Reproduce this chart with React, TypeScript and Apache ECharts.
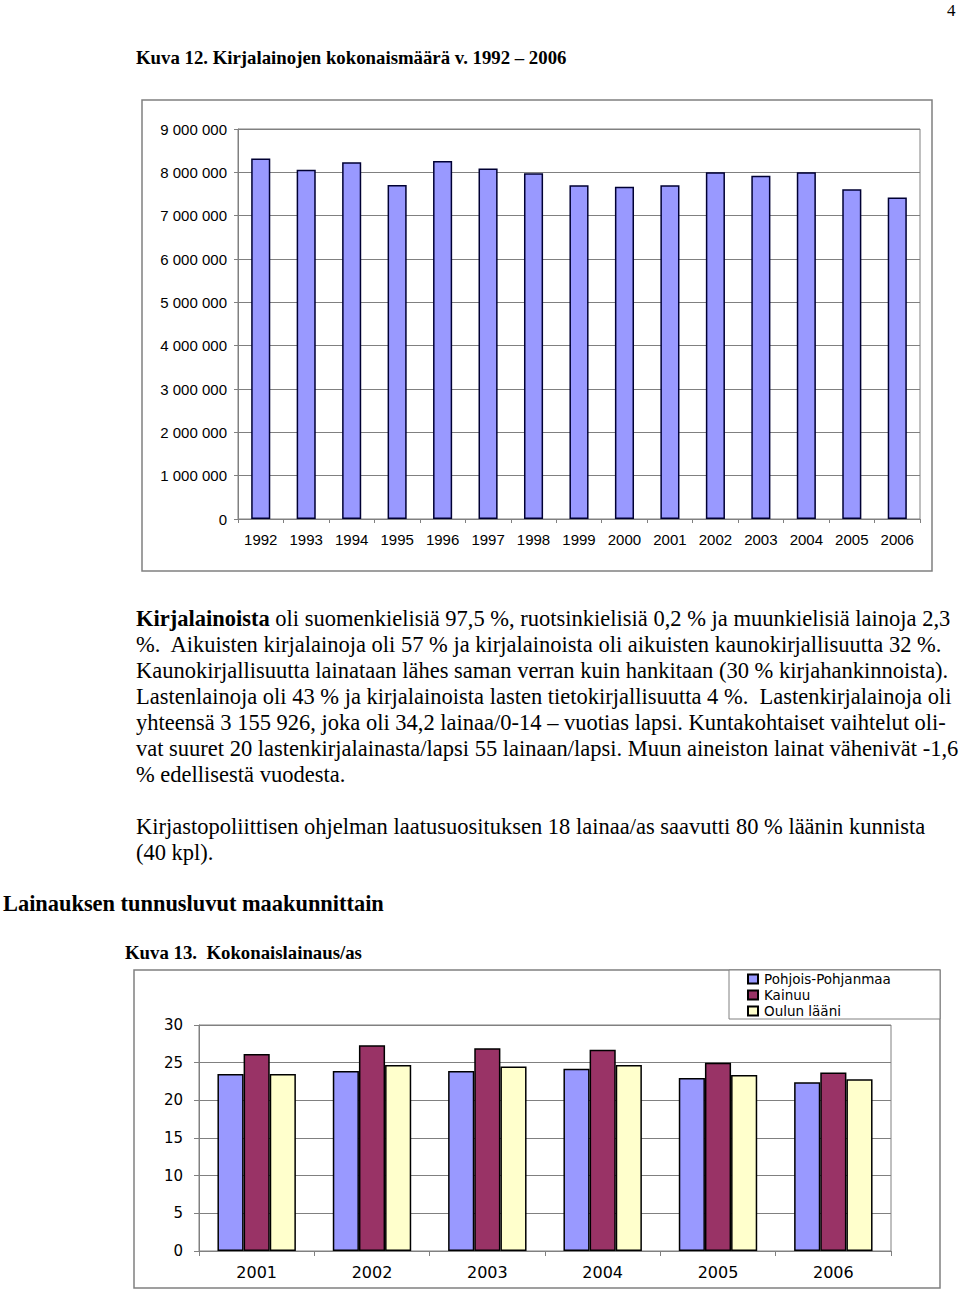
import React, { useEffect, useRef } from "react";
import * as echarts from "echarts";

const years1 = ["1992","1993","1994","1995","1996","1997","1998","1999","2000","2001","2002","2003","2004","2005","2006"];
const loans1 = [8320000, 8060000, 8230000, 7710000, 8260000, 8090000, 7980000, 7700000, 7670000, 7700000, 8000000, 7920000, 8000000, 7610000, 7420000];

const years2 = ["2001","2002","2003","2004","2005","2006"];
const seriesNames2 = ["Pohjois-Pohjanmaa", "Kainuu", "Oulun lääni"];
const pohjoisPohjanmaa = [23.5, 23.9, 23.9, 24.2, 22.95, 22.4];
const kainuu = [26.15, 27.3, 26.9, 26.7, 25.0, 23.7];
const oulunLaani = [23.5, 24.7, 24.5, 24.7, 23.35, 22.8];
const colors2 = ["#9999FF", "#993366", "#FFFFCC"];

const title1 = "Kuva 12. Kirjalainojen kokonaismäärä v. 1992 – 2006";
const paragraph1 = [
  "{b|Kirjalainoista} oli suomenkielisiä 97,5 %, ruotsinkielisiä 0,2 % ja muunkielisiä lainoja 2,3",
  "%.  Aikuisten kirjalainoja oli 57 % ja kirjalainoista oli aikuisten kaunokirjallisuutta 32 %.",
  "Kaunokirjallisuutta lainataan lähes saman verran kuin hankitaan (30 % kirjahankinnoista).",
  "Lastenlainoja oli 43 % ja kirjalainoista lasten tietokirjallisuutta 4 %.  Lastenkirjalainoja oli",
  "yhteensä 3 155 926, joka oli 34,2 lainaa/0-14 – vuotias lapsi. Kuntakohtaiset vaihtelut oli-",
  "vat suuret 20 lastenkirjalainasta/lapsi 55 lainaan/lapsi. Muun aineiston lainat vähenivät -1,6",
  "% edellisestä vuodesta.",
];
const paragraph2 = [
  "Kirjastopoliittisen ohjelman laatusuosituksen 18 lainaa/as saavutti 80 % läänin kunnista",
  "(40 kpl).",
];
const heading = "Lainauksen tunnusluvut maakunnittain";
const title2 = "Kuva 13.  Kokonaislainaus/as";

const SERIF = "'Liberation Serif', 'Times New Roman', serif";
const SANS = "'Liberation Sans', Arial, sans-serif";
const WIDE = "'DejaVu Sans', Verdana, sans-serif";

function fmt(v: number) {
  return String(v).replace(/\B(?=(\d{3})+(?!\d))/g, " ");
}

export default function App() {
  const ref = useRef<HTMLDivElement>(null);
  useEffect(() => {
    if (!ref.current) return;
    const chart = echarts.init(ref.current, undefined, { renderer: "svg" });
    const textEl = (x: number, y: number, text: string, size: number, bold = false) => ({
      type: "text",
      x,
      y,
      style: {
        text,
        fontSize: size,
        fontFamily: SERIF,
        fontWeight: bold ? "bold" : "normal",
        fill: "#000",
        verticalAlign: "middle",
        rich: {
          b: { fontSize: size, fontFamily: SERIF, fontWeight: "bold", fill: "#000" },
        },
      },
    });
    const graphics: any[] = [
      textEl(947, 10, "4", 17),
      textEl(136, 57, title1, 18.8, true),
      ...paragraph1.map((t, i) => textEl(136, 618 + i * 26, t, 22.5)),
      ...paragraph2.map((t, i) => textEl(136, 826 + i * 26, t, 22.5)),
      textEl(3, 903, heading, 22.4, true),
      textEl(125, 952, title2, 18.8, true),
      {
        type: "rect",
        shape: { x: 142, y: 100, width: 790, height: 471 },
        style: { fill: "none", stroke: "#808080", lineWidth: 1.5 },
        z: -1,
      },
      {
        type: "rect",
        shape: { x: 134, y: 970, width: 806, height: 318 },
        style: { fill: "none", stroke: "#808080", lineWidth: 1.5 },
        z: -1,
      },
      {
        type: "rect",
        shape: { x: 729, y: 970, width: 211, height: 49 },
        style: { fill: "#fff", stroke: "#808080", lineWidth: 1 },
        z: 1,
      },
    ];
    const seriesData2 = [pohjoisPohjanmaa, kainuu, oulunLaani];
    chart.setOption({
      animation: false,
      grid: [
        { left: 238, top: 129, right: 40, bottom: 773, show: true, borderColor: "#808080", borderWidth: 1, backgroundColor: "transparent" },
        { left: 199, top: 1025, right: 69, bottom: 41, show: true, borderColor: "#808080", borderWidth: 1, backgroundColor: "transparent" },
      ],
      xAxis: [
        {
          type: "category",
          gridIndex: 0,
          data: years1,
          axisLine: { lineStyle: { color: "#808080", width: 1 } },
          axisTick: { show: true, length: 4, lineStyle: { color: "#808080" } },
          axisLabel: { color: "#000", fontSize: 15, fontFamily: SANS, margin: 13, interval: 0 },
        },
        {
          type: "category",
          gridIndex: 1,
          data: years2,
          axisLine: { lineStyle: { color: "#808080", width: 1 } },
          axisTick: { show: true, length: 5, lineStyle: { color: "#808080" } },
          axisLabel: { color: "#000", fontSize: 16, fontFamily: WIDE, margin: 13, interval: 0 },
        },
      ],
      yAxis: [
        {
          type: "value",
          gridIndex: 0,
          min: 0,
          max: 9000000,
          interval: 1000000,
          axisLine: { show: true, lineStyle: { color: "#808080", width: 1 } },
          axisTick: { show: true, length: 4, lineStyle: { color: "#808080" } },
          splitLine: { lineStyle: { color: "#808080", width: 1 } },
          axisLabel: { color: "#000", fontSize: 15, fontFamily: SANS, margin: 11, formatter: (v: number) => fmt(v) },
        },
        {
          type: "value",
          gridIndex: 1,
          min: 0,
          max: 30,
          interval: 5,
          axisLine: { show: true, lineStyle: { color: "#808080", width: 1 } },
          axisTick: { show: true, length: 5, lineStyle: { color: "#808080" } },
          splitLine: { lineStyle: { color: "#808080", width: 1 } },
          axisLabel: { color: "#000", fontSize: 15, fontFamily: WIDE, margin: 16 },
        },
      ],
      legend: {
        orient: "vertical",
        left: 747,
        top: 972,
        itemWidth: 10,
        itemHeight: 9,
        itemGap: 2,
        icon: "rect",
        padding: 0,
        data: seriesNames2,
        z: 5,
        textStyle: { color: "#000", fontSize: 13.5, fontFamily: WIDE, lineHeight: 12, padding: [0, 0, 0, 1] },
      },
      graphic: graphics,
      series: [
        {
          type: "bar",
          xAxisIndex: 0,
          yAxisIndex: 0,
          data: loans1,
          barWidth: "42%",
          itemStyle: { color: "#9999FF", borderColor: "#000033", borderWidth: 1.5 },
        },
        ...seriesNames2.map((name, i) => ({
          type: "bar",
          name,
          xAxisIndex: 1,
          yAxisIndex: 1,
          data: seriesData2[i],
          barGap: "0%",
          barCategoryGap: "32%",
          itemStyle: { color: colors2[i], borderColor: "#000", borderWidth: 1.5 },
        })),
      ],
    });
    return () => chart.dispose();
  }, []);
  return (
    <div
      ref={ref}
      style={{ position: "absolute", left: 0, top: 0, width: 960, height: 1292, background: "#fff" }}
    />
  );
}
